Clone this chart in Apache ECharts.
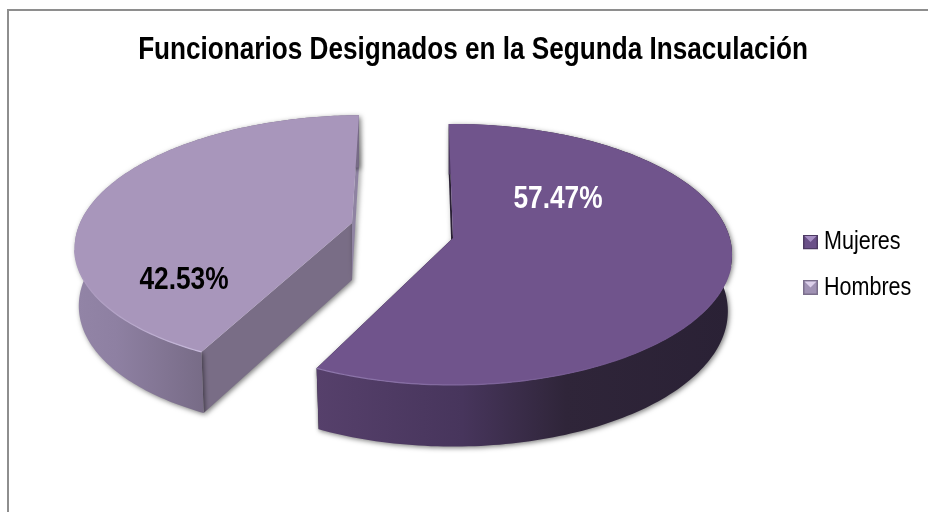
<!DOCTYPE html>
<html>
<head>
<meta charset="utf-8">
<style>html,body{margin:0;padding:0;background:#fff}#c{width:928px;height:512px}</style>
<script src="https://cdn.jsdelivr.net/npm/echarts@6/dist/echarts.min.js"></script>
</head>
<body>
<div id="c"></div>
<script>
const titleText = 'Funcionarios Designados en la Segunda Insaculación';
const categories = ['Mujeres', 'Hombres'];
const values = [57.47, 42.53];

const FONT = '"Liberation Sans",Arial,sans-serif';
const START_DEG = -1;
const views = {
  Mujeres: {ax:453, ay:238, b:276.8, c:128.4, k:-0.1264, s:0, depth:56, dm:0.1, shrink:0.985,
    top:'#70548c', edge:'#8f78ad', wall:'#2a2035', sliver:'#2a2035', label:[558,199], labelColor:'#fff',
    side:[[0,'#56406b'],[0.35,'#47355c'],[0.6,'#2f2539'],[1,'#2a2135']], gx:[317,732], ex:[317,620]},
  Hombres: {ax:352, ay:223, b:272, c:124, k:-0.1497, s:-12.8, depth:57, dm:0.08, shrink:0.985,
    top:'#a896bb', edge:'#c8bbdc', wall:'#796d86', sliver:'#8f83a2', label:[184,280], labelColor:'#000',
    side:[[0,'#9284a6'],[0.3,'#8e80a2'],[1,'#776b86']], gx:[78,205], ex:[205,70]}
};

function project(v, deg) {
  const t = deg * Math.PI / 180, x = Math.sin(t), y = -Math.cos(t), w = 1 + v.k * y;
  return [v.ax + (v.b * x + v.s * y) / w, v.ay + v.c * y / w, y];
}
function lower(v, p) { return [v.ax + (p[0] - v.ax) * v.shrink, p[1] + v.depth * (1 + v.dm * p[2])]; }

function sliceItem(params, api) {
  const name = categories[params.seriesIndex];
  const v = views[name];
  const total = values.reduce((a, b) => a + b, 0);
  const before = values.slice(0, params.seriesIndex).reduce((a, b) => a + b, 0);
  const a0 = START_DEG + before / total * 360;
  const a1 = a0 + api.value(0) / total * 360;
  const arc = [];
  for (let i = 0; i <= 180; i++) arc.push(project(v, a0 + (a1 - a0) * i / 180));
  const apex = [v.ax, v.ay, 0];
  const P = p => [p[0], p[1]];
  const arcLow = arc.map(p => lower(v, p));
  const shadow = {shadowBlur: 5, shadowColor: 'rgba(0,0,0,0.5)', shadowOffsetX: 1.5, shadowOffsetY: 1.5};
  const first = arc[0], last = arc[arc.length - 1];
  const wall = (p, fill) => ({type: 'polygon', shape: {points: [P(apex), P(p), lower(v, p), lower(v, apex)]},
    style: Object.assign({fill: fill}, shadow)});
  const children = [
    wall(first, params.seriesIndex === 0 ? v.sliver : v.wall),
    wall(last, params.seriesIndex === 0 ? v.wall : v.sliver),
    {type: 'polygon', shape: {points: arc.map(P).concat(arcLow.slice().reverse())},
      style: Object.assign({fill: new echarts.graphic.LinearGradient(v.gx[0], 0, v.gx[1], 0, v.side.map(s => ({offset: s[0], color: s[1]})), true)}, shadow)},
    {type: 'polygon', shape: {points: [P(apex)].concat(arc.map(P))}, style: {fill: v.top}},
    {type: 'polyline', shape: {points: arc.filter(p => p[2] > 0.2).map(P)},
      style: {fill: null, lineWidth: 1.2,
        stroke: new echarts.graphic.LinearGradient(v.ex[0], 0, v.ex[1], 0, [{offset: 0, color: v.edge}, {offset: 1, color: v.top}], true)}},
    {type: 'text', x: v.label[0], y: v.label[1], scaleX: 0.821,
      style: {text: api.value(0).toFixed(2) + '%', x: 0, y: 0, align: 'center', verticalAlign: 'middle',
      font: 'bold 32px ' + FONT, fill: v.labelColor}}
  ];
  return {type: 'group', children: children};
}

function bevel(light, base, dark) {
  const svg = `<svg xmlns="http://www.w3.org/2000/svg" width="15" height="15"><rect width="15" height="15" fill="${dark}"/><rect x="1.5" y="1.5" width="12" height="12" fill="${base}"/><path d="M1.5 1.5H13.5L7.5 7.5Z" fill="${light}"/></svg>`;
  return 'image://data:image/svg+xml;charset=utf-8,' + encodeURIComponent(svg);
}
const icons = [bevel('#a78fc4', '#6a5088', '#4d3a63'), bevel('#dcd0ea', '#a092b4', '#7b6f8c')];
const legendColors = ['#70548c', '#a896bb'];
const legendTextY = [241.5, 288];

const chart = echarts.init(document.getElementById('c'), null, {renderer: 'canvas'});
chart.setOption({
  animation: false,
  backgroundColor: '#fff',
  legend: {orient: 'vertical', left: 803, top: 234.5, padding: 0, itemWidth: 15, itemHeight: 15, itemGap: 30.5,
    data: categories.map((n, i) => ({name: n, icon: icons[i]})),
    formatter: () => '',
    textStyle: {fontFamily: FONT, fontSize: 1}},
  graphic: [
    {type: 'line', shape: {x1: 8, y1: 10, x2: 928, y2: 10}, style: {stroke: '#8e8e8e', lineWidth: 2}},
    {type: 'line', shape: {x1: 8, y1: 9, x2: 8, y2: 512}, style: {stroke: '#8e8e8e', lineWidth: 2}},
    {type: 'text', x: 473, y: 50, scaleX: 0.817,
      style: {text: titleText, x: 0, y: 0, align: 'center', verticalAlign: 'middle', font: 'bold 32px ' + FONT, fill: '#000'}}
  ].concat(categories.map((n, i) => ({type: 'text', x: 824, y: legendTextY[i], scaleX: 0.828,
      style: {text: n, x: 0, y: 0, align: 'left', verticalAlign: 'middle', font: '26px ' + FONT, fill: '#000'}}))),
  series: categories.map((n, i) => ({
    type: 'custom', name: n, coordinateSystem: 'none', silent: true,
    itemStyle: {color: legendColors[i]},
    data: [[values[i]]],
    renderItem: sliceItem
  }))
});
</script>
</body>
</html>
